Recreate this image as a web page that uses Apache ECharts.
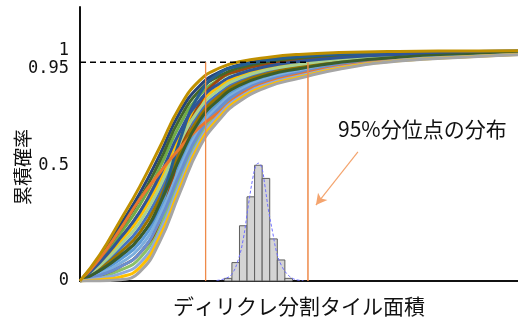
<!DOCTYPE html>
<html>
<head>
<meta charset="utf-8">
<script src="https://cdn.jsdelivr.net/npm/echarts@6/dist/echarts.min.js"></script>
<style>
  html, body { margin: 0; padding: 0; background: #fff; }
  #chart { width: 518px; height: 320px; }
</style>
</head>
<body>
<div id="chart"></div>
<script>
// Tile-area positions at which every cumulative curve is sampled
const areaSamples = [0, 0.1, 0.2, 0.3, 0.4, 0.5, 0.6, 0.7, 0.8, 0.95, 1.1, 1.3, 1.6, 2.0, 2.2];

// Cumulative probability of tile area, one row per simulated tessellation
const cdfRuns = [
  [0, 0.060, 0.138, 0.232, 0.383, 0.578, 0.731, 0.817, 0.869, 0.911, 0.934, 0.957, 0.977, 0.988, 0.992],
  [0, 0.081, 0.184, 0.299, 0.457, 0.589, 0.696, 0.763, 0.828, 0.881, 0.909, 0.940, 0.967, 0.982, 0.988],
  [0, 0.090, 0.204, 0.329, 0.490, 0.676, 0.806, 0.876, 0.914, 0.944, 0.961, 0.976, 0.988, 0.994, 0.996],
  [0, 0.039, 0.092, 0.166, 0.309, 0.509, 0.679, 0.777, 0.839, 0.888, 0.915, 0.945, 0.969, 0.983, 0.989],
  [0, 0.074, 0.168, 0.277, 0.432, 0.623, 0.766, 0.844, 0.890, 0.926, 0.947, 0.966, 0.982, 0.990, 0.994],
  [0, 0.018, 0.046, 0.099, 0.236, 0.441, 0.626, 0.736, 0.808, 0.865, 0.897, 0.932, 0.962, 0.979, 0.986],
  [0, 0.106, 0.240, 0.380, 0.547, 0.730, 0.847, 0.907, 0.938, 0.962, 0.976, 0.986, 0.994, 0.997, 0.999],
  [0, 0.025, 0.061, 0.121, 0.260, 0.551, 0.769, 0.876, 0.914, 0.944, 0.961, 0.976, 0.988, 0.994, 0.996],
  [0, 0.053, 0.122, 0.210, 0.359, 0.555, 0.713, 0.804, 0.859, 0.903, 0.928, 0.953, 0.974, 0.986, 0.991],
  [0, 0.098, 0.222, 0.355, 0.519, 0.703, 0.827, 0.891, 0.926, 0.953, 0.968, 0.981, 0.991, 0.995, 0.997],
  [0, 0.032, 0.076, 0.144, 0.285, 0.486, 0.661, 0.763, 0.828, 0.881, 0.909, 0.940, 0.967, 0.982, 0.988],
  [0, 0.067, 0.153, 0.255, 0.408, 0.600, 0.748, 0.831, 0.880, 0.919, 0.940, 0.962, 0.979, 0.989, 0.993],
  [0, 0.046, 0.107, 0.188, 0.334, 0.608, 0.812, 0.903, 0.935, 0.959, 0.974, 0.985, 0.993, 0.997, 0.998],
  [0, 0.081, 0.184, 0.299, 0.457, 0.646, 0.783, 0.858, 0.900, 0.934, 0.953, 0.970, 0.984, 0.992, 0.995],
  [0, 0.025, 0.061, 0.121, 0.260, 0.464, 0.644, 0.750, 0.818, 0.873, 0.903, 0.936, 0.964, 0.980, 0.987],
  [0, 0.098, 0.222, 0.355, 0.470, 0.575, 0.667, 0.734, 0.806, 0.864, 0.896, 0.931, 0.961, 0.979, 0.986],
  [0, 0.046, 0.107, 0.188, 0.334, 0.532, 0.696, 0.790, 0.849, 0.896, 0.922, 0.949, 0.972, 0.985, 0.990],
  [0, 0.012, 0.031, 0.077, 0.211, 0.418, 0.609, 0.723, 0.797, 0.858, 0.890, 0.927, 0.959, 0.977, 0.985],
  [0, 0.006, 0.017, 0.058, 0.191, 0.399, 0.595, 0.711, 0.789, 0.851, 0.885, 0.924, 0.957, 0.976, 0.984],
  [0, 0.000, 0.005, 0.040, 0.170, 0.380, 0.580, 0.700, 0.780, 0.845, 0.880, 0.920, 0.955, 0.975, 0.983],
  [0, 0.115, 0.260, 0.410, 0.580, 0.755, 0.870, 0.925, 0.952, 0.972, 0.984, 0.992, 0.997, 0.999, 1.000]
];

const runColors = [
  '#4472C4', '#ED7D31', '#70AD47', '#5B9BD5', '#FFC000', '#8CC168', '#264478',
  '#9E480E', '#997300', '#43682B', '#7CAFDD', '#A9D18E', '#255E91', '#2F5597',
  '#698ED0', '#E8772E', '#3B5E2B', '#8FAADC', '#FFC000', '#A5A5A5', '#BF9000'
];

const yTickValues = [0, 0.5, 0.95, 1];
const quantileLevel = 0.95;
// Smallest and largest 95% quantile among the runs
const quantileRange = [0.631, 1.145];

// Histogram of the 95% quantile points
const binEdges = [0.725, 0.763, 0.801, 0.839, 0.877, 0.915, 0.953, 0.991, 1.029, 1.067];
const binCounts = [1, 7, 21, 32, 44, 39, 16, 8, 1];

// Fitted normal density over the histogram
const fitX = [0.686, 0.728, 0.762, 0.795, 0.820, 0.845, 0.867, 0.884, 0.897, 0.913, 0.929, 0.946, 0.968, 0.988, 1.013, 1.046, 1.080, 1.122];
const fitY = [0.2, 0.9, 2.5, 8.1, 15.9, 28.5, 38.7, 44.0, 44.8, 43.1, 36.1, 27.3, 18.4, 10.8, 5.7, 2.2, 0.6, 0.15];

// Callout arrow pointing at the histogram
const arrowFrom = [1.396, 0.561];
const arrowTo = [1.185, 0.330];

const noteText = '95%分位点の分布';
const xName = 'ディリクレ分割タイル面積';
const yName = '累積確率';

const chart = echarts.init(document.getElementById('chart'), null, { renderer: 'canvas' });

const cdfSeries = cdfRuns.map((run, i) => ({
  type: 'line',
  xAxisIndex: 0,
  yAxisIndex: 0,
  data: run.map((p, j) => [areaSamples[j], p]),
  smooth: 0.5,
  symbol: 'none',
  lineStyle: { color: runColors[i % runColors.length], width: 3 },
  z: 2,
  silent: true
}));

const bins = binCounts.map((c, i) => [binEdges[i], binEdges[i + 1], c]);

const option = {
  animation: false,
  backgroundColor: '#ffffff',
  grid: [
    { left: 80, right: 0, top: 7, bottom: 39, outerBoundsMode: 'none', containLabel: false },
    { left: 80, right: 0, top: 160, bottom: 39, outerBoundsMode: 'none', containLabel: false }
  ],
  xAxis: [
    {
      type: 'value', gridIndex: 0, min: 0, max: 2.2,
      name: xName, nameLocation: 'middle', nameGap: 15, nameMoveOverlap: false,
      nameTextStyle: { fontFamily: 'Noto Sans CJK JP', fontSize: 21, color: '#111', verticalAlign: 'top' },
      axisLine: { show: true, lineStyle: { color: '#111', width: 2 } },
      axisTick: { show: false }, axisLabel: { show: false }, splitLine: { show: false }
    },
    { type: 'value', gridIndex: 1, min: 0, max: 2.2, show: false }
  ],
  yAxis: [
    {
      type: 'value', gridIndex: 0, min: 0, max: 1.19,
      name: yName, nameLocation: 'middle', nameGap: 48, nameRotate: 90, nameMoveOverlap: false,
      nameTextStyle: { fontFamily: 'Noto Sans CJK JP', fontSize: 19, color: '#111', padding: [0, 46, 0, 0] },
      axisLine: { show: true, lineStyle: { color: '#111', width: 2 } },
      axisTick: { show: false },
      splitLine: { show: false },
      axisLabel: {
        customValues: yTickValues,
        margin: 11,
        fontFamily: 'DejaVu Sans Mono', fontSize: 17, color: '#111',
        formatter: v => (v === quantileLevel ? '{q|' + v + '}' : String(v)),
        rich: { q: { fontFamily: 'DejaVu Sans Mono', fontSize: 17, color: '#111', padding: [12, 0, 0, 0] } }
      }
    },
    { type: 'value', gridIndex: 1, min: 0, max: 46, show: false }
  ],
  graphic: [
    {
      type: 'text', left: 338, top: 119, silent: true,
      style: { text: noteText, fontFamily: 'Noto Sans CJK JP', fontSize: 21, fill: '#111' }
    }
  ],
  series: [
    ...cdfSeries,
    {
      // horizontal dashed guide at the quantile level
      type: 'line', xAxisIndex: 0, yAxisIndex: 0, symbol: 'none', silent: true, z: 5,
      data: [[0, quantileLevel], [quantileRange[1], quantileLevel]],
      lineStyle: { color: '#000', width: 1.5, type: [6, 4] }
    },
    {
      type: 'line', xAxisIndex: 0, yAxisIndex: 0, symbol: 'none', silent: true, z: 5,
      data: [[quantileRange[0], 0], [quantileRange[0], quantileLevel]],
      lineStyle: { color: '#EE8A4A', width: 1.3 }
    },
    {
      type: 'line', xAxisIndex: 0, yAxisIndex: 0, symbol: 'none', silent: true, z: 5,
      data: [[quantileRange[1], 0], [quantileRange[1], quantileLevel]],
      lineStyle: { color: '#EE8A4A', width: 1.5 }
    },
    {
      // callout arrow
      type: 'line', xAxisIndex: 0, yAxisIndex: 0, data: [], silent: true, z: 5,
      markLine: {
        silent: true, animation: false,
        symbol: ['none', 'arrow'], symbolSize: [9, 11],
        label: { show: false },
        lineStyle: { color: '#F4A46E', width: 1.2, type: 'solid' },
        data: [[{ coord: arrowFrom }, { coord: arrowTo }]]
      }
    },
    {
      type: 'custom', xAxisIndex: 1, yAxisIndex: 1, silent: true, z: 6,
      data: bins,
      encode: { x: [0, 1], y: 2 },
      renderItem: (params, api) => {
        const p0 = api.coord([api.value(0), 0]);
        const p1 = api.coord([api.value(1), api.value(2)]);
        return {
          type: 'rect',
          shape: { x: p0[0], y: p1[1], width: p1[0] - p0[0], height: p0[1] - p1[1] },
          style: { fill: '#D4D4D4', stroke: '#5E5E5E', lineWidth: 1 }
        };
      }
    },
    {
      type: 'line', xAxisIndex: 1, yAxisIndex: 1, symbol: 'none', silent: true, z: 7,
      smooth: 0.4,
      data: fitX.map((x, i) => [x, fitY[i]]),
      lineStyle: { color: '#6F6FFF', width: 1, type: [3, 2] }
    }
  ]
};

chart.setOption(option);
</script>
</body>
</html>
